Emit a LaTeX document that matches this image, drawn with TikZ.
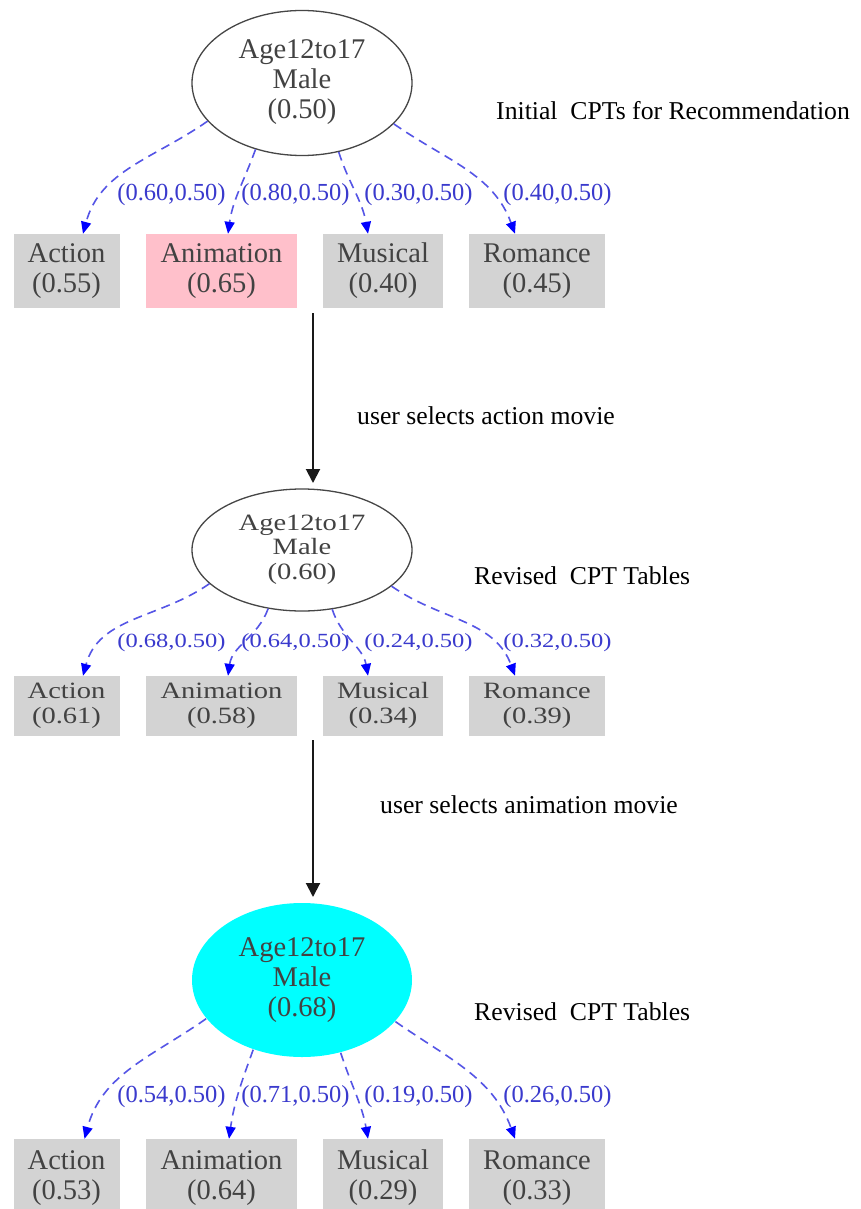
\documentclass[tikz,border=0pt]{standalone}
\usepackage{fontspec}
\setmainfont{Liberation Serif}
\usetikzlibrary{arrows.meta,calc,shapes.geometric}

\definecolor{nodetext}{RGB}{66,66,66}
\definecolor{boxgray}{RGB}{211,211,211}
\definecolor{boxpink}{RGB}{255,192,203}
\definecolor{nodecyan}{RGB}{0,255,255}
\definecolor{edgeblue}{RGB}{85,85,230}
\definecolor{labelblue}{RGB}{58,58,205}
\definecolor{rimgray}{RGB}{70,70,70}
\definecolor{flowgray}{RGB}{25,25,25}

% stacked lines inside a node
\newcommand\stk[1]{\begin{tabular}{@{}c@{}}#1\end{tabular}}
% flattened text for the middle stage
\newcommand\squash[1]{\scalebox{1}[0.82]{#1}}

\begin{document}
\begin{tikzpicture}[x=1pt,y=1pt,
  state/.style={ellipse, draw=rimgray, line width=1.3pt, inner sep=0pt,
    minimum width=220pt, text=nodetext, font=\fontsize{28.5}{30}\selectfont},
  genre/.style={rectangle, fill=boxgray, inner sep=0pt, text=nodetext,
    font=\fontsize{28.5}{30}\selectfont},
  cpt/.style={-{Triangle[length=12pt,width=10pt,color=blue]}, draw=edgeblue,
    line width=1.6pt, dash pattern=on 9pt off 6pt},
  prob/.style={inner sep=0pt, text=labelblue, font=\fontsize{24.5}{26}\selectfont},
  caption/.style={inner sep=0pt, anchor=base west, text=black,
    font=\fontsize{25.7}{30}\selectfont},
  flow/.style={-{Triangle[length=14pt,width=14pt]}, draw=flowgray, line width=2pt}
]
\useasboundingbox (0,0) rectangle (860,-1209);
\clip (0,0) rectangle (860,-1209);
\fill[white] (0,0) rectangle (860,-1209);

% ---------- stage 1: initial CPTs ----------
\node[state, minimum height=145pt] (e1) at (302,-83) {\stk{Age12to17\\Male\\(0.50)}};
\node[genre, minimum width=106pt, minimum height=74pt] (a1) at (66.5,-271) {\stk{Action\\(0.55)}};
\node[genre, fill=boxpink, minimum width=151pt, minimum height=74pt] (n1) at (221.5,-271) {\stk{Animation\\(0.65)}};
\node[genre, minimum width=120pt, minimum height=74pt] (m1) at (383,-271) {\stk{Musical\\(0.40)}};
\node[genre, minimum width=136pt, minimum height=74pt] (r1) at (537,-271) {\stk{Romance\\(0.45)}};

\draw[cpt] (e1.202) to[out=215,in=75] ($(a1.north)+(16.5,0)$);
\draw[cpt] (e1.235) to[out=250,in=82] ($(n1.north)+(6.5,0)$);
\draw[cpt] (e1.298) to[out=288,in=100] ($(m1.north)+(-15,0)$);
\draw[cpt] (e1.336) to[out=325,in=110] ($(r1.north)+(-22,0)$);

\node[prob] (pa1) at (171.5,-195) {(0.60,0.50)};
\node[prob] (pn1) at (295.5,-195) {(0.80,0.50)};
\node[prob] (pm1) at (418.5,-195) {(0.30,0.50)};
\node[prob] (pr1) at (557.5,-195) {(0.40,0.50)};

\node[caption] (c1) at (496,-120) {Initial~~CPTs for Recommendation};

% ---------- step: action movie ----------
\coordinate (s1) at (313,-313);
\coordinate (t1) at (313,-483);
\draw[flow] (s1) -- (t1);
\node[caption] (u1) at (357,-424) {user selects action movie};

% ---------- stage 2: revised CPTs ----------
\node[state, minimum height=122pt] (e2) at (302,-550) {\squash{\stk{Age12to17\\Male\\(0.60)}}};
\node[genre, minimum width=106pt, minimum height=60pt] (a2) at (66.5,-706) {\squash{\stk{Action\\(0.61)}}};
\node[genre, minimum width=151pt, minimum height=60pt] (n2) at (221.5,-706) {\squash{\stk{Animation\\(0.58)}}};
\node[genre, minimum width=120pt, minimum height=60pt] (m2) at (383,-706) {\squash{\stk{Musical\\(0.34)}}};
\node[genre, minimum width=136pt, minimum height=60pt] (r2) at (537,-706) {\squash{\stk{Romance\\(0.39)}}};

\draw[cpt] (e2.200) to[out=215,in=75] ($(a2.north)+(16.5,0)$);
\draw[cpt] (e2.240) to[out=250,in=82] ($(n2.north)+(6.5,0)$);
\draw[cpt] (e2.297) to[out=288,in=100] ($(m2.north)+(-15,0)$);
\draw[cpt] (e2.338) to[out=325,in=110] ($(r2.north)+(-22,0)$);

\node[prob] (pa2) at (171.5,-643) {\squash{(0.68,0.50)}};
\node[prob] (pn2) at (295.5,-643) {\squash{(0.64,0.50)}};
\node[prob] (pm2) at (418.5,-643) {\squash{(0.24,0.50)}};
\node[prob] (pr2) at (557.5,-643) {\squash{(0.32,0.50)}};

\node[caption] (c2) at (474,-584) {Revised~~CPT Tables};

% ---------- step: animation movie ----------
\coordinate (s2) at (313,-740);
\coordinate (t2) at (313,-897);
\draw[flow] (s2) -- (t2);
\node[caption] (u2) at (380,-813) {user selects animation movie};

% ---------- stage 3: revised CPTs ----------
\node[state, draw=none, fill=nodecyan, minimum height=154pt] (e3) at (302,-980) {\stk{Age12to17\\Male\\(0.68)}};
\node[genre, minimum width=106pt, minimum height=78pt] (a3) at (66.5,-1178) {\stk{Action\\(0.53)}};
\node[genre, minimum width=151pt, minimum height=78pt] (n3) at (221.5,-1178) {\stk{Animation\\(0.64)}};
\node[genre, minimum width=120pt, minimum height=78pt] (m3) at (383,-1178) {\stk{Musical\\(0.29)}};
\node[genre, minimum width=136pt, minimum height=78pt] (r3) at (537,-1178) {\stk{Romance\\(0.33)}};

\draw[cpt] (e3.202) to[out=215,in=75] ($(a3.north)+(18,0)$);
\draw[cpt] (e3.235) to[out=250,in=82] ($(n3.north)+(7.5,0)$);
\draw[cpt] (e3.298) to[out=288,in=100] ($(m3.north)+(-15,0)$);
\draw[cpt] (e3.336) to[out=325,in=110] ($(r3.north)+(-22,0)$);

\node[prob] (pa3) at (171.5,-1097) {(0.54,0.50)};
\node[prob] (pn3) at (295.5,-1097) {(0.71,0.50)};
\node[prob] (pm3) at (418.5,-1097) {(0.19,0.50)};
\node[prob] (pr3) at (557.5,-1097) {(0.26,0.50)};

\node[caption] (c3) at (474,-1020) {Revised~~CPT Tables};
\end{tikzpicture}
\end{document}
